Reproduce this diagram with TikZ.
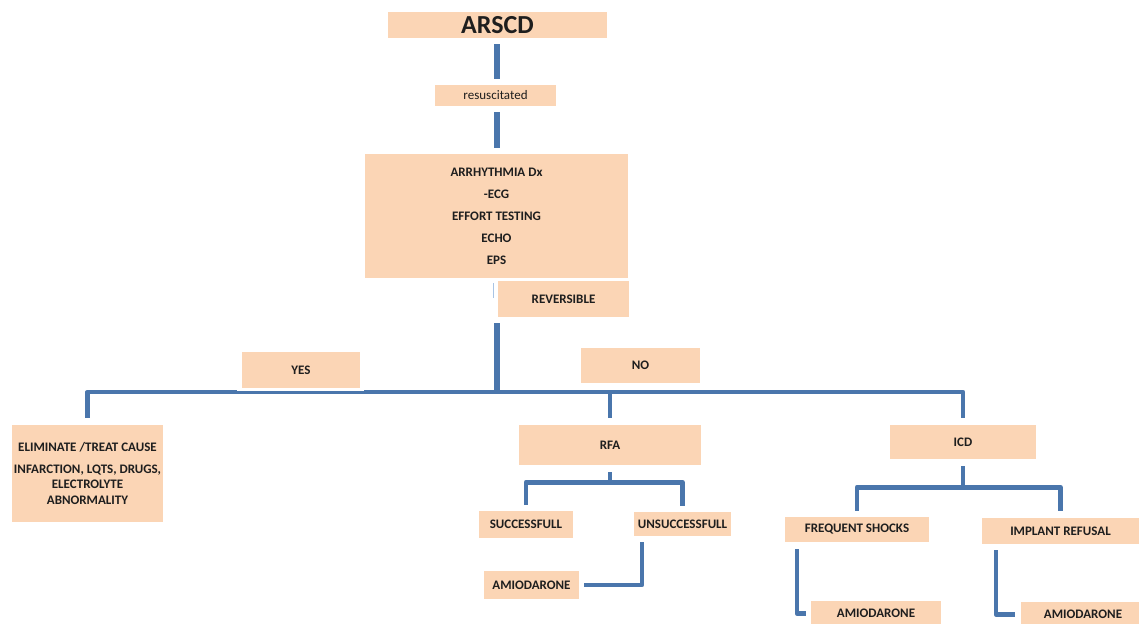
\documentclass[tikz,border=0pt]{standalone}
\usepackage{fontspec}
\setmainfont{Carlito}
\definecolor{boxfill}{HTML}{FBD5B5}
\definecolor{linecol}{HTML}{4A76AC}
\definecolor{thincol}{HTML}{A9C4E4}
\definecolor{txt}{HTML}{1E1E1E}
\tikzset{
  box/.style={fill=boxfill, draw=none, inner sep=0pt, align=center, text=txt,
    font=\fontsize{13}{15}\selectfont\bfseries},
  conn/.style={draw=linecol, line width=4.8pt, line join=round},
  thick conn/.style={draw=linecol, line width=5.6pt},
  thin conn/.style={draw=thincol, line width=1pt}
}
\begin{document}
\begin{tikzpicture}[x=1pt,y=1pt]
\useasboundingbox (0,0) rectangle (1139,-623);
\fill[white] (0,0) rectangle (1139,-623);

% nodes
\node[box, minimum width=219, minimum height=26, font=\fontsize{26}{28}\selectfont\bfseries] (arscd) at (497.5,-25) {ARSCD};
\node[box, minimum width=121, minimum height=21, font=\fontsize{13}{15}\selectfont] (resus) at (495.5,-95.5) {resuscitated};
\node[box, minimum width=263, minimum height=124, font=\fontsize{13}{22}\selectfont\bfseries] (arr) at (496.5,-216) {ARRHYTHMIA Dx\\-ECG\\EFFORT TESTING\\ECHO\\EPS};
\node[box, minimum width=131, minimum height=36] (rev) at (563.5,-299) {REVERSIBLE};
\node[box, minimum width=118, minimum height=36] (yes) at (301,-370) {YES};
\node[box, minimum width=119, minimum height=35] (no) at (640.5,-365.5) {NO};
\node[box, minimum width=151, minimum height=97, font=\fontsize{13}{15.5}\selectfont\bfseries] (elim) at (87.5,-473.5) {ELIMINATE /TREAT CAUSE\\[6pt]INFARCTION, LQTS, DRUGS,\\ELECTROLYTE\\ABNORMALITY};
\node[box, minimum width=182, minimum height=40] (rfa) at (610,-445) {RFA};
\node[box, minimum width=146, minimum height=34] (icd) at (963,-442) {ICD};
\node[box, minimum width=94, minimum height=27] (succ) at (526,-524.5) {SUCCESSFULL};
\node[box, minimum width=97, minimum height=24] (unsucc) at (682.5,-524) {UNSUCCESSFULL};
\node[box, minimum width=95, minimum height=28] (amio1) at (531.5,-585) {AMIODARONE};
\node[box, minimum width=144, minimum height=25] (fs) at (857,-529.5) {FREQUENT SHOCKS};
\node[box, minimum width=157, minimum height=26] (ir) at (1060.5,-531) {IMPLANT REFUSAL};
\node[box, minimum width=130, minimum height=25] (amio2) at (876,-613.5) {AMIODARONE};
\node[box, minimum width=124, minimum height=25] (amio3) at (1083,-614.5) {AMIODARONE};

% free-end coordinates
\coordinate (thinA) at (493,-283);
\coordinate (thinB) at (493,-298);
\coordinate (revout) at (497,-323);
\coordinate (hub) at (497,-392);

% connectors
\draw[thick conn] ([yshift=-6pt]arscd.south -| hub) -- ([yshift=6pt]resus.north -| hub);
\draw[thick conn] ([yshift=-6pt]resus.south -| hub) -- ([yshift=6pt]arr.north -| hub);
\draw[thin conn] (thinA) -- (thinB);
\draw[thick conn] (revout) -- (hub);
\draw[conn] ([yshift=7pt]elim.north) |- (hub) -| ([yshift=7pt]icd.north);
\draw[conn] (hub -| rfa.north) -- ([yshift=7pt]rfa.north);
% white gap below YES
\fill[white] ([xshift=-5pt]yes.south west) rectangle ([xshift=4pt,yshift=-2.5pt]yes.south east);

% RFA branches
\draw[conn] ([yshift=-7pt]rfa.south) -- ++(0,-10) coordinate (rfab);
\draw[conn] ([yshift=6pt]succ.north) |- (rfab) -| ([yshift=6pt]unsucc.north);
\draw[conn] ([xshift=-40.5pt,yshift=-6pt]unsucc.south) |- ([xshift=5pt]amio1.east);

% ICD branches
\draw[conn] ([yshift=-7pt]icd.south) -- ++(0,-21) coordinate (icdb);
\draw[conn] ([yshift=6pt]fs.north) |- (icdb) -| ([yshift=7pt]ir.north);
\draw[conn] ([xshift=-60pt,yshift=-7pt]fs.south) |- ([xshift=-5pt]amio2.west);
\draw[conn] ([xshift=-64.5pt,yshift=-6pt]ir.south) |- ([xshift=-6pt]amio3.west);
\end{tikzpicture}
\end{document}
